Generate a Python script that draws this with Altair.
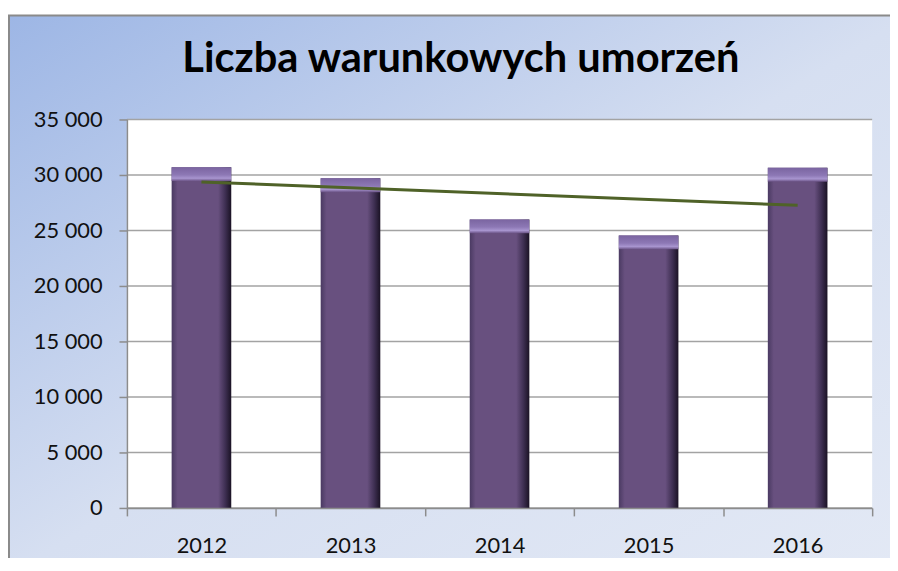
import altair as alt
import pandas as pd

# ---- data ----
years = [2012, 2013, 2014, 2015, 2016]
values = [30700, 29700, 26000, 24550, 30650]
y_ticks = [0, 5000, 10000, 15000, 20000, 25000, 30000, 35000]
title_text = "Liczba warunkowych umorzeń"

df = pd.DataFrame({"year": years, "value": values})
grid_df = pd.DataFrame({"tick": y_ticks})

W, H = 752, 392
PAD = {"left": 120, "top": 110, "right": 18, "bottom": 48}

yscale = alt.Scale(domain=[0, 35000], nice=False, zero=True)
xscale = alt.Scale(paddingInner=0, paddingOuter=0)

y_axis = alt.Axis(values=y_ticks, grid=False, zindex=1,
                  labelExpr="replace(format(datum.value, ',d'), ',', ' ')",
                  domainColor="#8c8c8c", domainWidth=1.5,
                  tickColor="#8c8c8c", tickWidth=1.5, tickSize=8,
                  labelFont="Lato", labelFontSize=22, labelColor="#111111",
                  labelPadding=17)
x_axis = alt.Axis(labelAngle=0, tickBand="extent", zindex=1,
                  domainColor="#8c8c8c", domainWidth=1.5,
                  tickColor="#8c8c8c", tickWidth=1.5, tickSize=8,
                  labelFont="Lato", labelFontSize=22, labelColor="#111111",
                  labelPadding=20)

base = alt.Chart(df)

# decorative background (chart area gradient) and white plot area
bg = alt.Chart(pd.DataFrame({"k": [0]})).mark_rect(
    clip=False,
    stroke="#8a8a8a",
    strokeWidth=2,
    fill=alt.Gradient(
        gradient="linear",
        x1=0, y1=0, x2=1, y2=1,
        stops=[
            alt.GradientStop(offset=0, color="#9db6e5"),
            alt.GradientStop(offset=0.5, color="#d6dff1"),
            alt.GradientStop(offset=1, color="#e3e9f5"),
        ],
    ),
).encode(
    x=alt.value(-119), x2=alt.value(W + PAD["right"] + 20),
    y=alt.value(-105), y2=alt.value(H + PAD["bottom"] + 20),
)

plot_bg = alt.Chart(pd.DataFrame({"k": [0]})).mark_rect(
    fill="white", clip=False
).encode(x=alt.value(0), x2=alt.value(W), y=alt.value(0), y2=alt.value(H))

grid = alt.Chart(grid_df).mark_rule(color="#a3a3a3", strokeWidth=1.5).encode(
    y=alt.Y("tick:Q", scale=yscale, axis=y_axis, title=None),
    x=alt.value(0), x2=alt.value(W),
)

bars = base.mark_bar(
    width=alt.RelativeBandSize(0.4),
    fill=alt.Gradient(
        gradient="linear",
        x1=0, y1=0, x2=1, y2=0,
        stops=[
            alt.GradientStop(offset=0, color="#4a3a62"),
            alt.GradientStop(offset=0.1, color="#68507f"),
            alt.GradientStop(offset=0.78, color="#68507f"),
            alt.GradientStop(offset=0.9, color="#3e2f52"),
            alt.GradientStop(offset=1, color="#1a1224"),
        ],
    ),
).encode(
    x=alt.X("year:O", scale=xscale, title=None, axis=x_axis),
    y=alt.Y("value:Q", scale=yscale, title=None, axis=y_axis),
)

caps = base.transform_calculate(cap="datum.value - 1250").mark_bar(
    width=alt.RelativeBandSize(0.4),
    fill=alt.Gradient(
        gradient="linear",
        x1=0, y1=0, x2=0, y2=1,
        stops=[
            alt.GradientStop(offset=0, color="#7a64a0"),
            alt.GradientStop(offset=0.55, color="#8d78b5"),
            alt.GradientStop(offset=0.8, color="#a895cf"),
            alt.GradientStop(offset=1, color="#6a5285"),
        ],
    ),
).encode(
    x=alt.X("year:O", scale=xscale, title=None, axis=x_axis),
    y=alt.Y("value:Q", scale=yscale, title=None, axis=y_axis),
    y2="cap:Q",
)

trend = base.transform_regression("year", "value", method="linear").mark_line(
    color="#4f6228", strokeWidth=3
).encode(
    x=alt.X("year:O", scale=xscale, title=None, axis=x_axis),
    y=alt.Y("value:Q", scale=yscale, title=None, axis=y_axis),
)

chart = alt.layer(bg, plot_bg, grid, bars, caps, trend).properties(
    width=W, height=H,
    padding=PAD,
    autosize=alt.AutoSizeParams(type="none"),
    background="white",
    title=alt.TitleParams(
        title_text, font="Lato", fontSize=42, fontWeight="bold", color="#000000",
        anchor="middle", frame="group", dx=-39, offset=0, dy=100,
        baseline="alphabetic",
    ),
).configure_view(stroke=None)

chart.save("out.html", embed_options={"renderer": "svg", "actions": False})
